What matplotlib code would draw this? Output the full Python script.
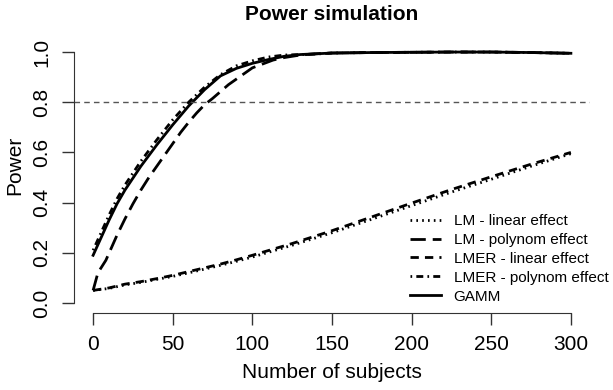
import matplotlib
import matplotlib.pyplot as plt
import numpy as np

matplotlib.use('Agg')
plt.rcParams['font.family'] = ['Liberation Sans', 'DejaVu Sans']

# sample sizes and power values
n_upper = [0, 5, 10, 15, 20, 30, 40, 50, 60, 70, 80, 90, 100, 110, 120, 130, 140, 150, 175, 200, 225, 250, 275, 300]
gamm = [0.19, 0.26, 0.33, 0.395, 0.45, 0.545, 0.63, 0.71, 0.785, 0.85, 0.905, 0.935, 0.955, 0.97, 0.983, 0.99, 0.993, 0.996, 0.998, 0.999, 1.0, 1.0, 0.998, 0.995]
lmer_poly = [0.21, 0.28, 0.35, 0.415, 0.47, 0.565, 0.65, 0.73, 0.80, 0.86, 0.91, 0.945, 0.965, 0.98, 0.988, 0.99, 0.992, 0.996, 0.998, 0.999, 1.0, 1.0, 0.998, 0.995]

n_lm_poly = [0, 3, 8, 15, 20, 25, 30, 35, 40, 45, 50, 55, 60, 65, 70, 75, 85, 100, 113, 120, 130, 140, 150, 175, 200, 225, 250, 275, 300]
lm_poly = [0.05, 0.12, 0.17, 0.27, 0.335, 0.395, 0.45, 0.50, 0.545, 0.59, 0.635, 0.68, 0.72, 0.757, 0.79, 0.815, 0.87, 0.937, 0.968, 0.978, 0.988, 0.993, 0.996, 0.998, 0.999, 1.0, 1.0, 0.998, 0.995]

n_lower = [0, 10, 20, 30, 40, 50, 60, 70, 80, 90, 100, 125, 150, 175, 200, 225, 250, 275, 300]
lmer_lin = [0.05, 0.06, 0.075, 0.085, 0.097, 0.11, 0.125, 0.14, 0.155, 0.172, 0.19, 0.237, 0.288, 0.343, 0.398, 0.452, 0.503, 0.553, 0.60]
lm_lin = [0.05, 0.058, 0.072, 0.082, 0.094, 0.106, 0.12, 0.135, 0.15, 0.166, 0.183, 0.23, 0.28, 0.334, 0.388, 0.442, 0.493, 0.545, 0.595]

labels = ['LM - linear effect', 'LM - polynom effect', 'LMER - linear effect',
          'LMER - polynom effect', 'GAMM']

W, H = 613, 390
fig = plt.figure(figsize=(W / 100, H / 100), dpi=100)
ax = fig.add_axes([74 / W, 1 - 313 / H, (590 - 74) / W, (313 - 42) / H])

lw = 2
ax.plot(n_lower, lm_lin, color='black', lw=lw, dashes=(0.6, 1.5), label=labels[0])
ax.plot(n_lm_poly, lm_poly, color='black', lw=lw, dashes=(5.5, 2.5), label=labels[1])
ax.plot(n_lower, lmer_lin, color='black', lw=lw, dashes=(3, 2.2), label=labels[2])
ax.plot(n_upper, lmer_poly, color='black', lw=lw, dashes=(0.6, 1.5, 2.5, 1.5), label=labels[3])
ax.plot(n_upper, gamm, color='black', lw=lw, label=labels[4])

ax.axhline(0.8, color='#555555', lw=1, dashes=(4, 3))

ax.set_xlim(-12, 312)
ax.set_ylim(-0.04, 1.04)
for s in ['top', 'right']:
    ax.spines[s].set_visible(False)
ax.spines['left'].set_bounds(0, 1)
ax.spines['bottom'].set_bounds(0, 300)
for s in ['left', 'bottom']:
    ax.spines[s].set_color('#333333')

ax.set_xticks([0, 50, 100, 150, 200, 250, 300])
ax.set_yticks([0.0, 0.2, 0.4, 0.6, 0.8, 1.0])
ax.set_yticklabels(['0.0', '0.2', '0.4', '0.6', '0.8', '1.0'], rotation=90, va='center')
ax.tick_params(axis='both', length=8.6, width=1, color='#333333', labelsize=15)
ax.tick_params(axis='x', pad=7)
ax.tick_params(axis='y', pad=8)

fig.text(332 / W, 1 - 14 / H, 'Power simulation', fontsize=15, fontweight='bold',
         ha='center', va='center')
fig.text(332 / W, 1 - 373 / H, 'Number of subjects', fontsize=15, ha='center', va='center')
fig.text(15 / W, 1 - 165 / H, 'Power', fontsize=15, rotation=90, ha='center', va='center')

leg = ax.legend(loc='upper left', bbox_to_anchor=(410 / W, 1 - 214 / H),
                bbox_transform=fig.transFigure, frameon=False, fontsize=11,
                borderpad=0, borderaxespad=0, handlelength=2.0, handletextpad=0.85,
                labelspacing=0.32)

fig.savefig('out.png', dpi=100)
